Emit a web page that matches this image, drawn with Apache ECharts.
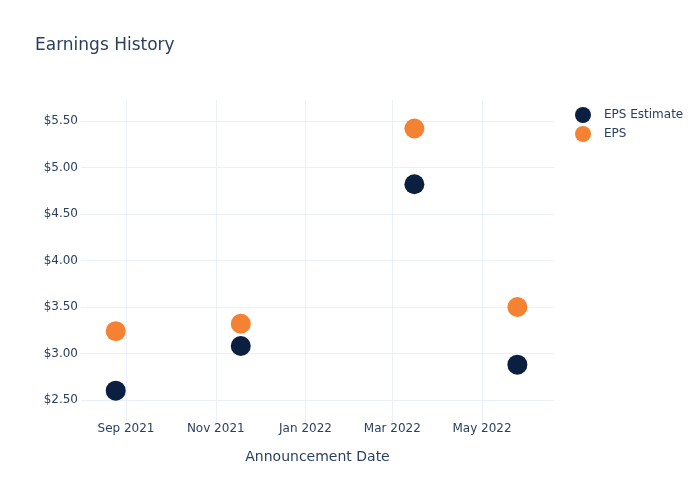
<!DOCTYPE html>
<html>
<head>
<meta charset="utf-8">
<script src="https://cdn.jsdelivr.net/npm/echarts@6/dist/echarts.min.js"></script>
<style>html,body{margin:0;padding:0;background:#fff}#c{width:700px;height:500px}</style>
</head>
<body>
<div id="c"></div>
<script>
const dates = ['2021-08-25', '2021-11-18', '2022-03-16', '2022-05-25'];
const epsEstimate = [2.60, 3.08, 4.82, 2.88];
const eps = [3.24, 3.32, 5.42, 3.50];
const xTickDates = ['2021-09-01', '2021-11-01', '2022-01-01', '2022-03-01', '2022-05-01'];
const xTickLabels = ['Sep 2021', 'Nov 2021', 'Jan 2022', 'Mar 2022', 'May 2022'];
const yTicks = [2.5, 3.0, 3.5, 4.0, 4.5, 5.0, 5.5];

const ts = d => new Date(d + 'T00:00:00Z').getTime();
const xTicks = xTickDates.map(ts);
const labelMap = {};
xTicks.forEach((t, i) => labelMap[t] = xTickLabels[i]);
const DAY = 86400000;

const chart = echarts.init(document.getElementById('c'));
const txt = '#2a3f5f';
const font = '"DejaVu Sans", Verdana, sans-serif';
chart.setOption({
  animation: false,
  backgroundColor: '#fff',
  textStyle: { fontFamily: font },
  title: {
    text: 'Earnings History', left: 30, top: 32,
    textStyle: { fontSize: 17, fontWeight: 'normal', color: txt, fontFamily: font }
  },
  legend: {
    orient: 'vertical', left: 570, top: 102, itemWidth: 16, itemHeight: 16, itemGap: 3,
    icon: 'circle',
    textStyle: { fontSize: 12, color: txt, fontFamily: font, padding: [0, 0, 0, 8] },
    data: ['EPS Estimate', 'EPS']
  },
  grid: { left: 81, right: 146, top: 100, bottom: 78 },
  xAxis: {
    type: 'value',
    min: ts('2021-09-01') - 30.6 * DAY,
    max: ts('2022-05-01') + 48.9 * DAY,
    name: 'Announcement Date', nameLocation: 'middle', nameGap: 28,
    nameTextStyle: { fontSize: 14, color: txt, fontFamily: font },
    axisLine: { show: false },
    axisTick: { show: false, customValues: xTicks },
    axisLabel: { customValues: xTicks, formatter: v => labelMap[v] || '', color: txt, fontSize: 12, fontFamily: font, margin: 1, hideOverlap: false },
    splitLine: { show: true, lineStyle: { color: '#ebf0f8', width: 1 } }
  },
  yAxis: {
    type: 'value', min: 2.263, max: 5.726,
    axisLine: { show: false },
    axisTick: { show: false, customValues: yTicks },
    axisLabel: { customValues: yTicks, formatter: v => '$' + v.toFixed(2), color: txt, fontSize: 12, fontFamily: font, margin: 3 },
    splitLine: { show: true, lineStyle: { color: '#ebf0f8', width: 1 } }
  },
  series: [
    { name: 'EPS Estimate', type: 'scatter', symbolSize: 20, itemStyle: { color: '#0b1f41', opacity: 1 },
      data: dates.map((d, i) => [ts(d), epsEstimate[i]]) },
    { name: 'EPS', type: 'scatter', symbolSize: 20, itemStyle: { color: '#f58233', opacity: 1 },
      data: dates.map((d, i) => [ts(d), eps[i]]) }
  ]
});
</script>
</body>
</html>
